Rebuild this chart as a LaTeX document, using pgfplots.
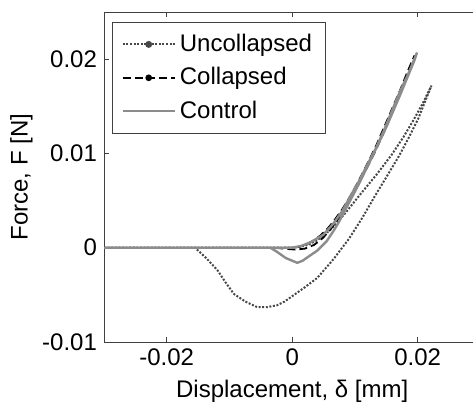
\documentclass[border=0pt]{standalone}
\usepackage{fontspec}
\setmainfont{Liberation Sans}
\usepackage{pgfplots}
\pgfplotsset{compat=1.18}
\definecolor{ctrlgray}{HTML}{8C8C8C}
\definecolor{uncgray}{HTML}{474747}
\definecolor{axgray}{HTML}{404040}
\newcommand{\fs}{\fontsize{12}{14}\selectfont}
\begin{document}
\begin{tikzpicture}
\begin{axis}[
  name=ax,
  scale only axis, width=188.2pt, height=165pt,
  xmin=-0.03, xmax=0.03, ymin=-0.01, ymax=0.025,
  xtick={-0.02,0,0.02}, xticklabels={-0.02,0,0.02},
  ytick={-0.01,0,0.01,0.02}, yticklabels={-0.01,0,0.01,0.02},
  scaled ticks=false,
  tick align=inside, major tick length=2.5pt,
  axis line style={axgray, line width=0.5pt},
  every tick/.style={axgray, line width=0.5pt},
  ticklabel style={font=\fs},
  xlabel={Displacement, δ [mm]}, ylabel={Force, F [N]},
  label style={font=\fs},
  ylabel style={yshift=-2pt},
  legend style={at={(0.0213,0.9706)}, anchor=north west, draw=axgray, line width=0.5pt,
    font=\fs, row sep=2.5pt, inner xsep=4.5pt, inner ysep=4pt},
  legend cell align=left,
  legend image code/.code={\draw[mark repeat=2,mark phase=2,#1] plot coordinates {(0pt,0pt) (13pt,0pt) (26pt,0pt)};},
]
\addlegendimage{uncgray, line width=1pt, dash pattern=on 1pt off 0.8pt, mark=*, mark size=1.2pt, mark options={solid}}
\addlegendentry{Uncollapsed}
\addlegendimage{black, line width=0.9pt, dash pattern=on 4pt off 2pt, mark=*, mark size=1.2pt, mark options={solid}}
\addlegendentry{Collapsed}
\addlegendimage{ctrlgray, line width=1.2pt}
\addlegendentry{Control}
% Uncollapsed
\addplot[forget plot, uncgray, line width=1pt, dash pattern=on 1pt off 0.8pt] coordinates {
(-0.03,0) (0,0) (0.0012,0.0001) (0.0025,0.0003) (0.004,0.0008) (0.0061,0.0019) (0.0085,0.0037) (0.0109,0.0057) (0.0135,0.0078) (0.0159,0.0099) (0.0177,0.0117) (0.0193,0.0135) (0.0208,0.0153) (0.0222,0.0172)
(0.0201,0.0137) (0.0186,0.0117) (0.017,0.0097) (0.0152,0.0077) (0.0132,0.0055) (0.0112,0.0032) (0.009,0.0009) (0.0075,-0.0004) (0.0066,-0.0012) (0.0053,-0.0022) (0.004,-0.0032) (0.002,-0.0042) (0.0003,-0.0050) (-0.0012,-0.0057) (-0.0024,-0.0061) (-0.004,-0.0063) (-0.0056,-0.0063) (-0.0075,-0.0057) (-0.0093,-0.0049) (-0.0106,-0.0037) (-0.0119,-0.0024) (-0.0137,-0.0011) (-0.0155,0) (-0.03,0)
};
% Collapsed
\addplot[forget plot, black, line width=0.9pt, dash pattern=on 4pt off 2pt] coordinates {
(-0.03,0) (0,0) (0.0012,0.0001) (0.0024,0.0004) (0.0035,0.0008) (0.0045,0.0013) (0.0056,0.0020) (0.0066,0.0028) (0.008,0.0041) (0.0093,0.0055) (0.0106,0.0071) (0.0119,0.0088) (0.0133,0.0107) (0.0146,0.0127) (0.0159,0.0147) (0.0172,0.0167) (0.0184,0.0187) (0.0195,0.0204)
(0.019,0.0194) (0.017,0.016) (0.015,0.0128) (0.013,0.0099) (0.011,0.0073) (0.009,0.0049) (0.007,0.0027) (0.005,0.0011) (0.0035,0.0003) (0.002,-0.0001) (0.0005,-0.0002) (-0.003,0) (-0.03,0)
};
% Control
\addplot[forget plot, ctrlgray, line width=1.2pt] coordinates {
(-0.03,0) (0,0) (0.0015,0.0002) (0.003,0.0006) (0.005,0.0014) (0.0061,0.0022) (0.0066,0.0026) (0.008,0.0039) (0.0093,0.0055) (0.0106,0.007) (0.0119,0.0087) (0.0133,0.0105) (0.0146,0.0124) (0.0159,0.0145) (0.0172,0.0166) (0.0186,0.0186) (0.0199,0.0207)
(0.0195,0.0199) (0.0172,0.0162) (0.015,0.0128) (0.0125,0.0093) (0.0105,0.0066) (0.009,0.0047) (0.0075,0.0028) (0.0066,0.0018) (0.0055,0.0007) (0.004,-0.0003) (0.0016,-0.0014) (0.0008,-0.0016) (-0.001,-0.0011) (-0.0025,-0.0004) (-0.0035,0) (-0.03,0)
};
\end{axis}
\pgfresetboundingbox
\path[use as bounding box] ([shift={(-52pt,-30pt)}]ax.south west) rectangle ([shift={(-3.7pt,6pt)}]ax.north east);
\end{tikzpicture}
\end{document}
